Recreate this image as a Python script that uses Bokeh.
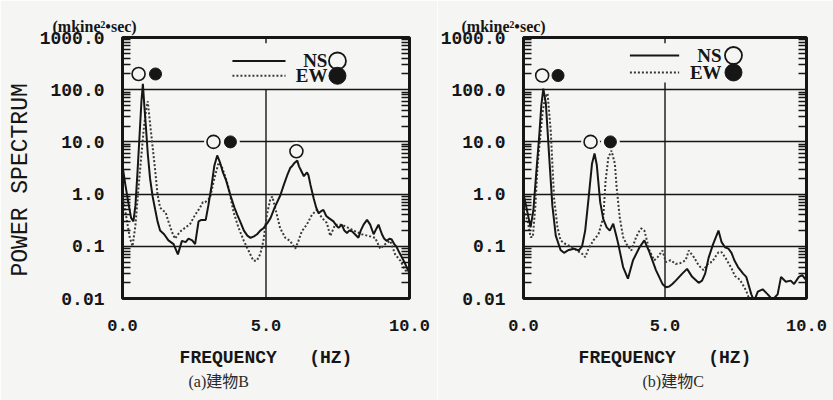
from bokeh.plotting import figure
from bokeh.layouts import row
from bokeh.models import (FixedTicker, LogAxis, Range1d, Title,
                          CustomJSTickFormatter, Label)
from bokeh.embed import file_html
from bokeh.resources import INLINE

# ---------------- data: building B (NS solid, EW dotted) ----------------
b_ns_f = [0.0, 0.1, 0.2, 0.3, 0.38, 0.45, 0.52, 0.6, 0.66, 0.71,
          0.76, 0.82, 0.88, 0.96, 1.05, 1.14, 1.22, 1.31, 1.45, 1.6,
          1.78, 1.93, 2.07, 2.2, 2.3, 2.43, 2.53, 2.65, 2.75, 2.9,
          2.99, 3.1, 3.2, 3.3, 3.4, 3.5, 3.6, 3.76, 3.9, 4.0,
          4.12, 4.23, 4.35, 4.46, 4.58, 4.69, 4.8, 4.92, 5.05, 5.16,
          5.3, 5.5, 5.62, 5.74, 5.85, 5.92, 6.0, 6.09, 6.15, 6.2,
          6.32, 6.43, 6.48, 6.55, 6.66, 6.75, 6.83, 6.92, 7.0, 7.1,
          7.18, 7.35, 7.45, 7.53, 7.64, 7.73, 7.82, 7.9, 7.99, 8.1,
          8.22, 8.3, 8.4, 8.52, 8.63, 8.75, 8.85, 8.92, 9.04, 9.12,
          9.21, 9.3, 9.38, 9.47, 9.56, 9.65, 9.73, 9.82, 9.9, 10.0]
b_ns_v = [3.5, 1.5, 0.7, 0.35, 0.3, 0.6, 2.5, 15, 60, 130,
          50, 18, 6, 2.0, 0.9, 0.5, 0.3, 0.2, 0.17, 0.13,
          0.11, 0.07, 0.127, 0.12, 0.14, 0.13, 0.11, 0.3, 0.32, 0.32,
          0.6, 1.4, 3.5, 5.5, 4.0, 2.6, 1.9, 0.95, 0.55, 0.4,
          0.28, 0.2, 0.16, 0.145, 0.155, 0.17, 0.2, 0.225, 0.28, 0.35,
          0.55, 0.95, 1.5, 2.3, 3.2, 3.5, 4.0, 4.4, 3.4, 3.0,
          2.2, 2.6, 2.3, 1.5, 0.83, 0.55, 0.43, 0.47, 0.5, 0.38,
          0.35, 0.3, 0.25, 0.225, 0.26, 0.2, 0.18, 0.2, 0.195, 0.17,
          0.146, 0.2, 0.26, 0.32, 0.26, 0.17, 0.22, 0.26, 0.17, 0.14,
          0.127, 0.14, 0.135, 0.11, 0.095, 0.075, 0.062, 0.05, 0.04, 0.03]

b_ew_f = [0.0, 0.12, 0.25, 0.35, 0.45, 0.55, 0.65, 0.75, 0.82, 0.88,
          0.97, 1.05, 1.14, 1.22, 1.31, 1.42, 1.5, 1.6, 1.72, 1.83,
          2.0, 2.2, 2.36, 2.53, 2.7, 2.8, 2.88, 3.05, 3.2, 3.35,
          3.45, 3.6, 3.7, 3.87, 4.04, 4.22, 4.39, 4.56, 4.68, 4.8,
          4.91, 5.03, 5.15, 5.22, 5.38, 5.49, 5.67, 5.84, 6.02, 6.13,
          6.25, 6.42, 6.6, 6.77, 6.95, 7.12, 7.24, 7.41, 7.64, 7.87,
          8.1, 8.34, 8.57, 8.8, 8.98, 9.15, 9.33, 9.5, 9.68, 9.85,
          10.0]
b_ew_v = [0.9, 0.4, 0.15, 0.1, 0.25, 1.2, 5, 20, 40, 60,
          20, 8, 2.8, 1.0, 0.55, 0.48, 0.45, 0.3, 0.19, 0.14,
          0.19, 0.23, 0.27, 0.4, 0.55, 0.7, 0.7, 0.85, 2.0, 4.0,
          3.5, 2.0, 1.3, 0.45, 0.23, 0.13, 0.083, 0.053, 0.053, 0.071,
          0.127, 0.4, 0.8, 0.9, 0.4, 0.225, 0.146, 0.127, 0.09, 0.127,
          0.195, 0.26, 0.4, 0.5, 0.35, 0.28, 0.158, 0.26, 0.26, 0.225,
          0.195, 0.17, 0.158, 0.146, 0.09, 0.11, 0.127, 0.07, 0.053, 0.035,
          0.03]

# ---------------- data: building C ----------------
c_ns_f = [0.0, 0.12, 0.25, 0.35, 0.45, 0.56, 0.63, 0.7, 0.79, 0.91,
          1.02, 1.14, 1.31, 1.43, 1.6, 1.78, 1.95, 2.07, 2.18, 2.3,
          2.42, 2.51, 2.59, 2.71, 2.82, 2.94, 3.05, 3.17, 3.29, 3.35,
          3.52, 3.69, 3.87, 4.1, 4.27, 4.45, 4.68, 4.91, 5.03, 5.15,
          5.26, 5.38, 5.61, 5.78, 5.96, 6.19, 6.31, 6.42, 6.54, 6.7,
          6.89, 7.0, 7.12, 7.24, 7.35, 7.45, 7.58, 7.76, 7.87, 8.05,
          8.15, 8.28, 8.45, 8.63, 8.8, 8.98, 9.1, 9.27, 9.44, 9.56,
          9.73, 9.85, 10.0]
c_ns_v = [1.0, 0.5, 0.23, 0.5, 2.5, 14, 50, 105, 55, 5,
          0.6, 0.16, 0.085, 0.075, 0.085, 0.09, 0.083, 0.1, 0.2, 0.84,
          3.8, 6.0, 3.6, 0.7, 0.33, 0.23, 0.2, 0.27, 0.15, 0.11,
          0.04, 0.024, 0.054, 0.096, 0.13, 0.077, 0.035, 0.019, 0.0165, 0.017,
          0.019, 0.022, 0.03, 0.037, 0.026, 0.02, 0.022, 0.03, 0.06, 0.11,
          0.2, 0.12, 0.096, 0.09, 0.075, 0.054, 0.04, 0.03, 0.026, 0.012,
          0.009, 0.0135, 0.015, 0.012, 0.0095, 0.012, 0.026, 0.021, 0.022, 0.019,
          0.026, 0.028, 0.022]

c_ew_f = [0.0, 0.15, 0.25, 0.33, 0.42, 0.5, 0.6, 0.67, 0.76, 0.85,
          0.96, 1.02, 1.08, 1.2, 1.31, 1.49, 1.72, 1.89, 2.07, 2.18,
          2.3, 2.47, 2.65, 2.82, 2.9, 3.0, 3.11, 3.23, 3.29, 3.4,
          3.52, 3.64, 3.81, 3.98, 4.1, 4.16, 4.27, 4.33, 4.45, 4.62,
          4.74, 4.91, 5.03, 5.2, 5.38, 5.55, 5.73, 5.84, 6.02, 6.19,
          6.36, 6.54, 6.66, 6.77, 6.89, 7.0, 7.12, 7.24, 7.35, 7.47,
          7.64, 7.76, 7.87, 8.0, 8.1]
c_ew_v = [0.5, 0.3, 0.15, 0.15, 0.6, 3.8, 14, 35, 70, 85,
          17, 3.8, 0.84, 0.23, 0.13, 0.11, 0.096, 0.083, 0.072, 0.062,
          0.09, 0.13, 0.17, 0.36, 1.8, 5.1, 6.8, 3.8, 1.36, 0.36,
          0.15, 0.11, 0.083, 0.15, 0.2, 0.22, 0.2, 0.15, 0.083, 0.054,
          0.062, 0.083, 0.05, 0.054, 0.046, 0.048, 0.054, 0.083, 0.062, 0.043,
          0.035, 0.048, 0.05, 0.062, 0.077, 0.077, 0.062, 0.048, 0.038, 0.027,
          0.023, 0.018, 0.014, 0.009, 0.007]

# peak markers (open = NS, filled = EW)
b_ns_mark_f = [0.56, 3.17, 6.06]
b_ns_mark_v = [200, 10, 6.6]
b_ew_mark_f = [1.15, 3.76]
b_ew_mark_v = [200, 10]
c_ns_mark_f = [0.66, 2.37]
c_ns_mark_v = [187, 10]
c_ew_mark_f = [1.22, 3.07]
c_ew_mark_v = [187, 10]

# axes
x_ticks = [0.0, 5.0, 10.0]
x_tick_labels = ["0.0", "5.0", "10.0"]
y_ticks = [0.01, 0.1, 1.0, 10.0, 100.0, 1000.0]
y_tick_labels = ["0.01", "0.1", "1.0", "10.0", "100.0", "1000.0"]
grid_levels = [0.1, 1.0, 10.0, 100.0]
minor_y = [m * 10.0 ** e for e in range(-2, 3) for m in range(2, 10)]
unit_text = "(mkine²•sec)"

BG = "#f5f5f3"
INK = "#161616"
MONO = "Liberation Mono"
SERIF = "Liberation Serif"
CAPTION_FONT = "Liberation Serif, Noto Sans CJK JP"
BLANK = CustomJSTickFormatter(code="return ''")


def panel(width, b_left, b_right, b_top, b_bottom, ns_f, ns_v, ew_f, ew_v,
          ns_mf, ns_mv, ew_mf, ew_mv, leg, unit_offset, caption, cap_offset,
          vline_top, ylabel):
    p = figure(width=width, height=400, x_range=Range1d(0, 10),
               y_range=Range1d(0.01, 1000), y_axis_type="log",
               output_backend="svg", toolbar_location=None,
               min_border_left=b_left, min_border_right=b_right,
               min_border_top=b_top, min_border_bottom=b_bottom,
               background_fill_color=BG, border_fill_color=BG,
               title=unit_text)
    # unit note sits above the top-left corner of the frame
    p.title.align = "left"
    p.title.offset = unit_offset
    p.title.text_font = SERIF
    p.title.text_font_style = "bold"
    p.title.text_font_size = "16px"
    p.title.text_color = INK
    p.title.standoff = 5

    p.outline_line_color = INK
    p.outline_line_width = 3
    p.xgrid.visible = False
    p.ygrid.ticker = FixedTicker(ticks=grid_levels)
    p.ygrid.grid_line_color = INK
    p.ygrid.grid_line_width = 1.6

    # x axis
    xa = p.xaxis[0]
    xa.ticker = FixedTicker(ticks=x_ticks)
    xa.major_label_overrides = dict(zip(x_ticks, x_tick_labels))
    xa.major_tick_in = 0
    xa.major_tick_out = 0
    xa.axis_line_color = None
    xa.major_label_standoff = 21
    xa.major_label_text_font = MONO
    xa.major_label_text_font_style = "bold"
    xa.major_label_text_font_size = "17px"
    xa.major_label_text_color = INK
    xa.axis_label = "FREQUENCY\u00a0\u00a0\u00a0(HZ)"
    xa.axis_label_text_font = MONO
    xa.axis_label_text_font_style = "bold"
    xa.axis_label_text_font_size = "18px"
    xa.axis_label_text_color = INK
    xa.axis_label_standoff = 14

    # y axis with inward log minor ticks on both sides
    ya = p.yaxis[0]
    ya.ticker = FixedTicker(ticks=y_ticks, minor_ticks=minor_y)
    ya.major_label_overrides = dict(zip(y_ticks, y_tick_labels))
    ya.major_tick_in = 0
    ya.major_tick_out = 0
    ya.minor_tick_in = 8
    ya.minor_tick_out = 0
    ya.minor_tick_line_color = INK
    ya.minor_tick_line_width = 1.3
    ya.axis_line_color = None
    ya.major_label_standoff = 18
    ya.major_label_text_font = MONO
    ya.major_label_text_font_style = "bold"
    ya.major_label_text_font_size = "18px"
    ya.major_label_text_color = INK
    if ylabel:
        p.add_layout(Title(text=ylabel, align="left", offset=22,
                           text_font=MONO, text_font_style="normal",
                           text_font_size="23px", text_color=INK,
                           standoff=5), "left")

    ra = LogAxis(ticker=FixedTicker(ticks=y_ticks, minor_ticks=minor_y),
                 formatter=BLANK, major_tick_in=0, major_tick_out=0,
                 minor_tick_in=8, minor_tick_out=0, minor_tick_line_color=INK,
                 minor_tick_line_width=1.3, axis_line_color=None,
                 major_label_standoff=0)
    p.add_layout(ra, "right")

    # caption under the axis title
    p.add_layout(Title(text=caption, align="left", offset=cap_offset,
                       text_font=CAPTION_FONT, text_font_style="normal",
                       text_font_size="16px", text_color="#2a2a2a",
                       standoff=0), "below")

    # vertical reference line at 5 Hz and the short top tick above it
    p.segment(x0=[5.0], y0=[0.01], x1=[5.0], y1=[vline_top],
              line_color=INK, line_width=1.4)
    p.segment(x0=[5.0], y0=[1000.0], x1=[5.0], y1=[780.0],
              line_color=INK, line_width=1.4)

    # halos break the grid lines behind the peak markers
    p.scatter(ns_mf + ew_mf, ns_mv + ew_mv, size=19, fill_color=BG,
              line_color=None)

    p.line(ew_f, ew_v, line_color="#3a3a3a", line_width=2, line_dash="2 2")
    p.line(ns_f, ns_v, line_color=INK, line_width=2)

    p.scatter(ns_mf, ns_mv, size=13, fill_color=BG, line_color=INK,
              line_width=1.6)
    p.scatter(ew_mf, ew_mv, size=12, fill_color=INK, line_color=INK)

    # legend
    lx0, lx1, ltx, lcx, ly_ns, ly_ew = leg
    p.segment(x0=[lx0], y0=[ly_ns], x1=[lx1], y1=[ly_ns], line_color=INK,
              line_width=2)
    p.segment(x0=[lx0], y0=[ly_ew], x1=[lx1], y1=[ly_ew],
              line_color="#3a3a3a", line_width=2, line_dash="2 2")
    for txt, yy in (("NS", ly_ns), ("EW", ly_ew)):
        p.add_layout(Label(x=ltx, y=yy, text=txt, text_align="right",
                           text_baseline="middle", text_font=SERIF,
                           text_font_style="bold", text_font_size="19px",
                           text_color=INK))
    p.scatter([lcx], [ly_ns], size=17, fill_color=BG, line_color=INK,
              line_width=1.8)
    p.scatter([lcx], [ly_ew], size=17, fill_color=INK, line_color=INK)
    return p


pb = panel(437, 122, 28, 36, 98, b_ns_f, b_ns_v, b_ew_f, b_ew_v,
           b_ns_mark_f, b_ns_mark_v, b_ew_mark_f, b_ew_mark_v,
           (3.83, 5.68, 7.14, 7.49, 355, 185), -70,
           "(a)建物B", 66, 100, "POWER SPECTRUM")
pc = panel(396, 82, 27, 37, 102, c_ns_f, c_ns_v, c_ew_f, c_ew_v,
           c_ns_mark_f, c_ns_mark_v, c_ew_mark_f, c_ew_mark_v,
           (3.76, 5.5, 7.0, 7.42, 452, 214), -62,
           "(b)建物C", 119, 138, None)

layout = row(pb, pc)
open("out.html", "w").write(file_html(layout, INLINE))
